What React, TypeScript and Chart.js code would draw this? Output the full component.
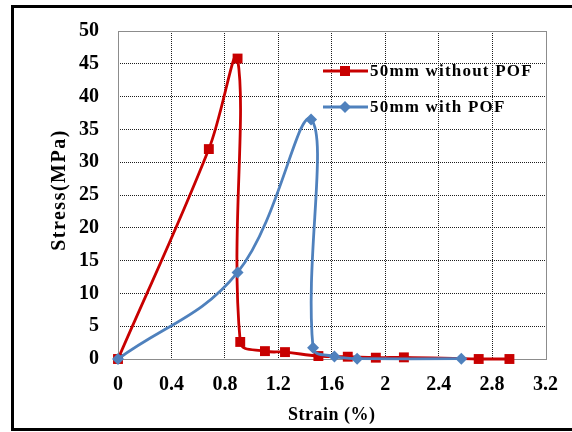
import React, { useEffect, useRef } from "react";
import { Chart, registerables } from "chart.js";

Chart.register(...registerables);

// ---- data ----
const seriesNames = ["50mm without POF", "50mm with POF"];
const redStrain = [0, 0.68, 0.895, 0.915, 1.1, 1.25, 1.5, 1.72, 1.93, 2.14, 2.7, 2.93];
const redStress = [0, 32, 45.8, 2.6, 1.2, 1.05, 0.45, 0.35, 0.2, 0.25, 0, 0];
const blueStrain = [0, 0.895, 1.445, 1.46, 1.62, 1.79, 2.57];
const blueStress = [0, 13.2, 36.5, 1.7, 0.4, 0.05, 0.05];
const xTickValues = [0, 0.4, 0.8, 1.2, 1.6, 2, 2.4, 2.8, 3.2];
const yTickValues = [0, 5, 10, 15, 20, 25, 30, 35, 40, 45, 50];
const xTitle = "Strain (%)";
const yTitle = "Stress(MPa)";

const RED = "#C80000";
const BLUE = "#4F81BD";
const FONT = '"Liberation Serif", "Times New Roman", serif';

const overlayPlugin = {
  id: "overlay",
  beforeDatasetsDraw(chart: any) {
    const { ctx, chartArea: a } = chart;
    ctx.save();
    ctx.strokeStyle = "#8c8c8c";
    ctx.lineWidth = 1;
    ctx.strokeRect(
      Math.round(a.left) + 0.5,
      Math.round(a.top) + 0.5,
      Math.round(a.right - a.left),
      Math.round(a.bottom - a.top)
    );
    ctx.restore();
  },
  afterDraw(chart: any) {
    const { ctx, chartArea: a } = chart;
    ctx.save();
    ctx.fillStyle = "#000";
    // axis titles
    (ctx as any).letterSpacing = "0.5px";
    ctx.font = `bold 18px ${FONT}`;
    ctx.textAlign = "center";
    ctx.textBaseline = "middle";
    ctx.fillText(xTitle, (a.left + a.right) / 2, 415);

    ctx.save();
    (ctx as any).letterSpacing = "1.5px";
    ctx.font = `bold 20px ${FONT}`;
    ctx.translate(60, 190);
    ctx.rotate(-Math.PI / 2);
    ctx.fillText(yTitle, 0, 0);
    ctx.restore();

    // legend
    const items = [
      { name: seriesNames[0], color: RED, y: 71, marker: "rect" },
      { name: seriesNames[1], color: BLUE, y: 107, marker: "diamond" },
    ];
    (ctx as any).letterSpacing = "1.2px";
    ctx.font = `bold 17px ${FONT}`;
    ctx.textAlign = "left";
    for (const it of items) {
      ctx.strokeStyle = it.color;
      ctx.lineWidth = 3;
      ctx.beginPath();
      ctx.moveTo(323, it.y);
      ctx.lineTo(368, it.y);
      ctx.stroke();
      ctx.fillStyle = it.color;
      if (it.marker === "rect") {
        ctx.fillRect(345 - 5, it.y - 5, 10, 10);
      } else {
        ctx.beginPath();
        ctx.moveTo(345 - 6, it.y);
        ctx.lineTo(345, it.y - 6);
        ctx.lineTo(345 + 6, it.y);
        ctx.lineTo(345, it.y + 6);
        ctx.closePath();
        ctx.fill();
      }
      ctx.fillStyle = "#000";
      ctx.fillText(it.name, 370, it.y + 1);
    }
    ctx.restore();
  },
};

export default function App() {
  const ref = useRef<HTMLCanvasElement>(null);

  useEffect(() => {
    const canvas = ref.current!;
    const gridColor = (edgeA: number, edgeB: number) => (c: any) => {
      const v = c.tick ? c.tick.value : null;
      if (v === null) return "rgba(0,0,0,0)";
      if (Math.abs(v - edgeA) < 1e-9 || Math.abs(v - edgeB) < 1e-9) return "rgba(0,0,0,0)";
      return "#1e1e1e";
    };
    const chart = new Chart(canvas, {
      type: "line",
      data: {
        datasets: [
          {
            label: seriesNames[0],
            data: redStrain.map((x, i) => ({ x, y: redStress[i] })),
            borderColor: RED,
            backgroundColor: RED,
            borderWidth: 2.8,
            pointStyle: "rect",
            pointRadius: 7,
            pointBackgroundColor: RED,
            pointBorderColor: RED,
            pointBorderWidth: 0,
            tension: 0.4,
            clip: false as any,
            order: 1,
          },
          {
            label: seriesNames[1],
            data: blueStrain.map((x, i) => ({ x, y: blueStress[i] })),
            borderColor: BLUE,
            backgroundColor: BLUE,
            borderWidth: 2.8,
            pointStyle: "rectRot",
            pointRadius: 6,
            pointBackgroundColor: BLUE,
            pointBorderColor: BLUE,
            pointBorderWidth: 0,
            tension: 0.4,
            clip: false as any,
            order: 0,
          },
        ],
      },
      options: {
        responsive: false,
        animation: false,
        devicePixelRatio: 1,
        layout: { padding: { top: 27, right: 22, left: 0, bottom: 0 } },
        plugins: { legend: { display: false }, tooltip: { enabled: false } },
        scales: {
          x: {
            type: "linear",
            min: 0,
            max: 3.2,
            afterBuildTicks: (s: any) => {
              s.ticks = xTickValues.map((v) => ({ value: v }));
            },
            afterFit: (s: any) => {
              s.height = 73;
            },
            ticks: {
              padding: 14,
              color: "#000",
              font: { family: FONT, size: 20, weight: "bold" },
              callback: (v: any) => String(Math.round(Number(v) * 10) / 10),
              maxRotation: 0,
              autoSkip: false,
            },
            grid: { color: gridColor(0, 3.2), lineWidth: 1, drawTicks: false },
            border: { display: false, dash: [1, 1] },
          },
          y: {
            type: "linear",
            min: 0,
            max: 50,
            afterBuildTicks: (s: any) => {
              s.ticks = yTickValues.map((v) => ({ value: v }));
            },
            afterFit: (s: any) => {
              s.width = 118;
            },
            ticks: {
              padding: 19,
              color: "#000",
              font: { family: FONT, size: 20, weight: "bold" },
              callback: (v: any) => String(v),
              autoSkip: false,
            },
            grid: { color: gridColor(0, 50), lineWidth: 1, drawTicks: false },
            border: { display: false, dash: [1, 1] },
          },
        },
      } as any,
      plugins: [overlayPlugin],
    });
    return () => chart.destroy();
  }, []);

  return (
    <div
      style={{
        position: "fixed",
        left: 0,
        top: 0,
        width: 572,
        height: 432,
        overflow: "hidden",
        background: "#fff",
      }}
    >
      <div
        style={{
          position: "absolute",
          left: 11,
          top: 5,
          width: 700,
          height: 426,
          border: "3px solid #000",
          boxSizing: "border-box",
        }}
      />
      <canvas
        ref={ref}
        width={572}
        height={432}
        style={{ position: "absolute", left: 0, top: 0, width: 572, height: 432 }}
      />
    </div>
  );
}
